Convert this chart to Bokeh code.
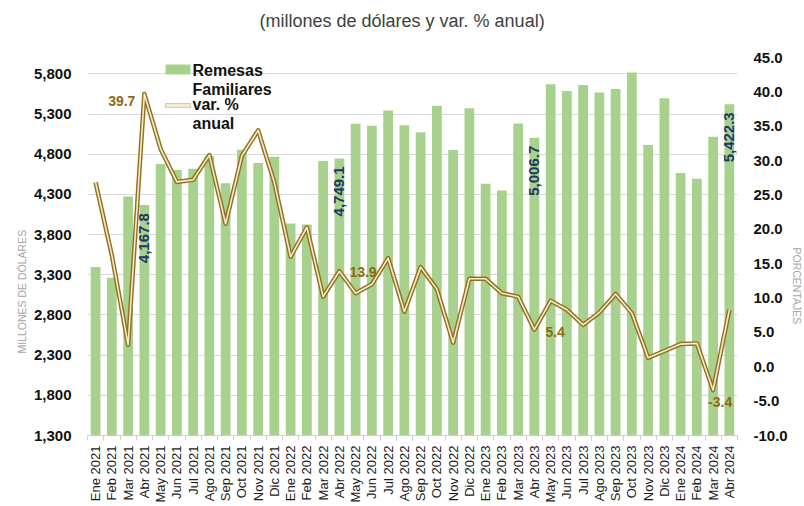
import math
from bokeh.plotting import figure
from bokeh.models import (Range1d, LinearAxis, FixedTicker, NumeralTickFormatter,
                          Label, BoxAnnotation, ColumnDataSource, Title)
from bokeh.core.properties import value
from bokeh.embed import file_html
from bokeh.resources import INLINE

months = ["Ene 2021", "Feb 2021", "Mar 2021", "Abr 2021", "May 2021", "Jun 2021",
          "Jul 2021", "Ago 2021", "Sep 2021", "Oct 2021", "Nov 2021", "Dic 2021",
          "Ene 2022", "Feb 2022", "Mar 2022", "Abr 2022", "May 2022", "Jun 2022",
          "Jul 2022", "Ago 2022", "Sep 2022", "Oct 2022", "Nov 2022", "Dic 2022",
          "Ene 2023", "Feb 2023", "Mar 2023", "Abr 2023", "May 2023", "Jun 2023",
          "Jul 2023", "Ago 2023", "Sep 2023", "Oct 2023", "Nov 2023", "Dic 2023",
          "Ene 2024", "Feb 2024", "Mar 2024", "Abr 2024"]

remesas = [3397, 3265, 4274, 4167.8, 4679, 4605, 4621, 4778, 4439, 4857,
           4692, 4770, 3939, 3926, 4716, 4749.1, 5180, 5155, 5345, 5163,
           5076, 5403, 4853, 5374, 4435, 4348, 5184, 5006.7, 5672, 5589,
           5664, 5568, 5614, 5817, 4915, 5498, 4567, 4497, 5018, 5422.3]

var_pct = [26.8, 16.2, 3.2, 39.7, 31.7, 26.9, 27.2, 30.8, 20.8, 30.7,
           34.4, 26.8, 16.0, 20.3, 10.2, 13.9, 10.7, 12.0, 15.8, 8.0,
           14.5, 11.3, 3.5, 12.8, 12.8, 10.7, 10.2, 5.4, 9.6, 8.3,
           6.1, 7.9, 10.6, 7.8, 1.3, 2.3, 3.3, 3.4, -3.4, 8.3]

left_ticks = [1300, 1800, 2300, 2800, 3300, 3800, 4300, 4800, 5300, 5800]
right_ticks = [-10.0, -5.0, 0.0, 5.0, 10.0, 15.0, 20.0, 25.0, 30.0, 35.0, 40.0, 45.0]

bar_label_months = ["Abr 2021", "Abr 2022", "Abr 2023", "Abr 2024"]
bar_label_texts = ["4,167.8", "4,749.1", "5,006.7", "5,422.3"]

pct_label_months = ["Abr 2021", "Abr 2022", "Abr 2023", "Mar 2024", "Abr 2024"]
pct_label_texts = ["39.7", "13.9", "5.4", "-3.4", "8.3"]

title_text = "(millones de dólares y var. % anual)"
left_title = "MILLONES DE DÓLARES"
right_title = "PORCENTAJES"
legend_bar = ["Remesas", "Familiares"]
legend_line = ["var. %", "anual"]

BAR_COLOR = "#A9D18E"
LINE_OUT = "#93721E"
LINE_IN = "#F3EAD0"
NAVY = "#203864"
GOLD = "#8D6A12"
FONT = "Liberation Sans"

idx = list(range(len(months)))
pos = {m: i for i, m in enumerate(months)}

p = figure(width=804, height=506, output_backend="svg", toolbar_location=None,
           x_range=Range1d(-0.5, len(months) - 0.5), y_range=Range1d(1300, 6005),
           min_border_left=87, min_border_right=65, min_border_top=0, min_border_bottom=71)
p.extra_y_ranges = {"pct": Range1d(-10, 45)}
p.outline_line_color = None
p.background_fill_color = "white"
p.border_fill_color = "white"

src = ColumnDataSource(dict(x=idx, rem=remesas, pct=var_pct))
p.vbar(x="x", top="rem", bottom=1300, width=0.6, source=src,
       fill_color=BAR_COLOR, line_color=None)
p.line(x="x", y="pct", source=src, y_range_name="pct", line_color=LINE_OUT,
       line_width=4.5, line_join="round")
p.line(x="x", y="pct", source=src, y_range_name="pct", line_color=LINE_IN,
       line_width=1.6, line_join="round")

# bar value labels (rotated, inside bars)
bsrc = ColumnDataSource(dict(x=[pos[m] for m in bar_label_months],
                             y=[remesas[pos[m]] for m in bar_label_months],
                             t=bar_label_texts))
p.text(x="x", y="y", text="t", source=bsrc, angle=math.pi / 2, text_align="right",
       text_baseline="middle", y_offset=8, text_color=NAVY, text_font=value(FONT),
       text_font_size="15px", text_font_style="bold")

# pct labels
offs = {"Abr 2021": (-9, 7, "right"), "Abr 2022": (10, 1, "left"), "Abr 2023": (11, 2, "left"),
        "Mar 2024": (7, 12, "center"), "Abr 2024": (9, 3, "left")}
for m, t in zip(pct_label_months, pct_label_texts):
    dx, dy, al = offs[m]
    s = ColumnDataSource(dict(x=[pos[m]], y=[var_pct[pos[m]]], t=[t]))
    p.text(x="x", y="y", text="t", source=s, y_range_name="pct", x_offset=dx, y_offset=dy,
           text_align=al, text_baseline="middle", text_color=GOLD, text_font=value(FONT),
           text_font_size="14px", text_font_style="bold")

# axes
xa = p.xaxis[0]
xa.ticker = FixedTicker(ticks=idx, minor_ticks=[i - 0.5 for i in range(len(months) + 1)])
xa.major_label_overrides = {i: m for i, m in enumerate(months)}
xa.major_label_orientation = math.pi / 2
xa.major_tick_line_color = None
xa.major_tick_out = 0
xa.major_tick_in = 0
xa.minor_tick_out = 5
xa.minor_tick_in = 0
xa.minor_tick_line_color = "#D0D0D0"
xa.axis_line_color = "#D0D0D0"
xa.major_label_standoff = 5
xa.major_label_text_font = FONT
xa.major_label_text_font_size = "13px"
xa.major_label_text_color = "#1A1A1A"

ya = p.yaxis[0]
ya.ticker = FixedTicker(ticks=left_ticks)
ya.formatter = NumeralTickFormatter(format="0,0")
ya.axis_line_color = None
ya.major_tick_line_color = None
ya.minor_tick_line_color = None
ya.major_tick_out = 0
ya.major_tick_in = 0
ya.major_label_standoff = 16
ya.major_label_text_font = FONT
ya.major_label_text_font_size = "15px"
ya.major_label_text_font_style = "bold"
ya.major_label_text_color = "#111111"

ra = LinearAxis(y_range_name="pct", ticker=FixedTicker(ticks=right_ticks),
                formatter=NumeralTickFormatter(format="0.0"))
ra.axis_line_color = None
ra.major_tick_line_color = None
ra.minor_tick_line_color = None
ra.major_tick_out = 0
ra.major_tick_in = 0
ra.major_label_standoff = 16
ra.major_label_text_font = FONT
ra.major_label_text_font_size = "15px"
ra.major_label_text_font_style = "bold"
ra.major_label_text_color = "#111111"
p.add_layout(ra, "right")

p.xgrid.grid_line_color = None
p.ygrid.ticker = FixedTicker(ticks=left_ticks)
p.ygrid.grid_line_color = "#D9D9D9"

# titles outside the frame
p.add_layout(Title(text=" ", text_font_size="10px", standoff=2), "above")
p.add_layout(Title(text=title_text, align="left", offset=172, vertical_align="top",
                   standoff=20, text_font=FONT, text_font_size="18px",
                   text_font_style="normal", text_color="#404040"), "above")
p.add_layout(Title(text=left_title, align="left", offset=82, standoff=6,
                   text_font=FONT, text_font_size="10.5px", text_font_style="normal",
                   text_color="#A6A6A6"), "left")
p.add_layout(Title(text=right_title, align="left", offset=190, standoff=0,
                   text_font=FONT, text_font_size="10.5px", text_font_style="normal",
                   text_color="#A6A6A6"), "right")

# manual legend (screen units relative to frame bottom-left)
p.add_layout(BoxAnnotation(left=78, right=103, bottom=361, top=371, left_units="screen",
                           right_units="screen", bottom_units="screen", top_units="screen",
                           fill_color=BAR_COLOR, fill_alpha=1, line_color=None))
p.add_layout(BoxAnnotation(left=78, right=103, bottom=328, top=332, left_units="screen",
                           right_units="screen", bottom_units="screen", top_units="screen",
                           fill_color=LINE_IN, fill_alpha=1, line_color=LINE_OUT, line_width=1.2))
for t, yy in zip(legend_bar + legend_line, [365, 346, 331, 312]):
    p.add_layout(Label(x=105, y=yy, x_units="screen", y_units="screen", text=t,
                       text_align="left", text_baseline="middle", text_font=FONT,
                       text_font_size="16px", text_font_style="bold", text_color="#111111"))

open("out.html", "w").write(file_html(p, INLINE))
